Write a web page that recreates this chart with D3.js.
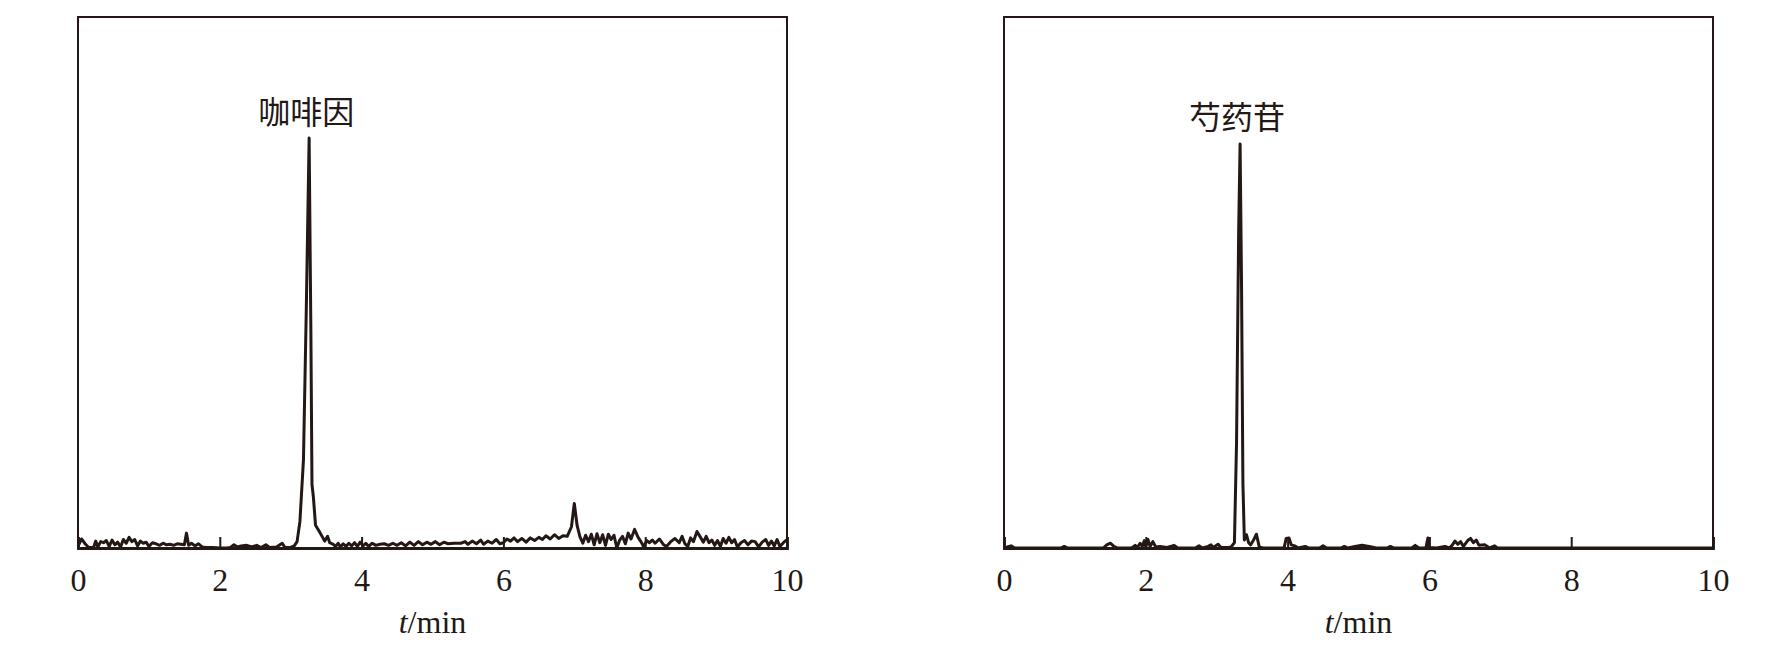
<!DOCTYPE html>
<html><head><meta charset="utf-8">
<script src="https://cdn.jsdelivr.net/npm/d3@7"></script>
<style>
html,body{margin:0;padding:0;background:#fff;}
svg{display:block;}
</style></head>
<body>
<script>
// ---- data ----
const xTicks = [0, 2, 4, 6, 8, 10];
const xLabel = "min";
const compoundA = "咖啡因";
const compoundB = "芍药苷";
const peakA = 3.26;
const peakB = 3.33;

const timeA = [0.00,0.05,0.10,0.15,0.22,0.25,0.28,0.32,0.36,0.40,0.44,0.48,0.52,0.56,0.60,0.64,0.68,0.72,0.76,0.80,0.84,0.88,0.92,0.96,1.00,1.05,1.10,1.15,1.20,1.25,1.30,1.35,1.40,1.45,1.50,1.53,1.56,1.60,1.65,1.70,1.75,1.80,1.90,2.00,2.10,2.15,2.20,2.25,2.30,2.38,2.45,2.52,2.58,2.65,2.70,2.80,2.88,2.92,3.00,3.05,3.09,3.13,3.18,3.22,3.26,3.285,3.30,3.32,3.35,3.40,3.45,3.48,3.52,3.55,3.60,3.63,3.67,3.70,3.74,3.78,3.82,3.86,3.90,3.94,3.98,4.02,4.06,4.10,4.15,4.20,4.26,4.32,4.38,4.44,4.50,4.56,4.62,4.68,4.74,4.80,4.86,4.92,4.98,5.04,5.10,5.16,5.22,5.30,5.40,5.46,5.50,5.56,5.62,5.68,5.72,5.78,5.84,5.90,5.95,6.00,6.05,6.10,6.15,6.20,6.26,6.32,6.38,6.44,6.50,6.55,6.60,6.66,6.72,6.78,6.84,6.90,6.96,7.00,7.04,7.08,7.12,7.16,7.20,7.24,7.28,7.32,7.36,7.40,7.44,7.48,7.52,7.56,7.60,7.64,7.68,7.72,7.76,7.80,7.85,7.90,7.94,7.98,8.02,8.06,8.10,8.14,8.20,8.26,8.30,8.36,8.42,8.48,8.52,8.56,8.60,8.64,8.68,8.73,8.78,8.82,8.86,8.90,8.94,8.98,9.02,9.06,9.10,9.14,9.18,9.22,9.26,9.30,9.35,9.40,9.45,9.50,9.55,9.60,9.65,9.70,9.74,9.78,9.82,9.86,9.90,9.95,10.0];
const intensityA = [0.3,1.7,0.8,0.1,0.1,1.3,0.2,1.2,1.0,1.4,0.3,1.5,0.6,1.1,0.2,1.6,0.9,2.0,1.2,1.6,0.4,1.3,0.9,1.1,0.3,1.0,0.8,0.5,0.9,0.6,0.7,0.5,0.8,0.7,0.6,2.8,0.5,0.9,0.4,0.8,0.2,0.1,0.1,0.0,0.0,0.1,0.6,0.2,0.4,0.5,0.2,0.5,0.1,0.6,0.1,0.2,0.9,0.1,0.1,0.4,1.2,5.0,16.6,45,77.2,40,12,9.6,4.3,3.2,2.0,1.3,2.2,1.0,0.7,0.3,0.9,0.2,0.8,0.3,0.9,0.4,1.0,0.3,1.1,0.4,0.9,0.3,0.9,0.5,0.7,0.8,0.5,0.9,0.5,1.0,0.4,1.1,0.5,1.2,0.6,1.1,0.7,1.2,0.6,1.1,0.8,0.9,0.9,1.2,0.7,1.3,0.8,1.5,0.7,1.3,0.9,1.6,0.8,1.0,1.7,1.3,1.9,1.2,1.8,1.1,1.9,1.4,2.0,1.6,2.3,1.7,2.5,1.8,2.3,2.2,4.0,8.4,4.2,2.1,0.9,2.4,1.2,2.6,0.6,2.7,1.0,2.5,0.5,2.6,1.6,2.4,0.0,1.5,2.2,0.8,2.8,1.7,3.5,2.0,1.2,0.2,1.4,1.0,1.5,0.9,1.7,0.6,0.3,1.2,1.8,1.0,2.2,0.8,0.3,1.9,1.2,3.1,2.0,1.1,2.2,1.0,1.5,0.5,1.4,0.3,1.8,0.9,2.0,1.0,1.6,0.2,1.0,1.4,0.6,1.3,1.2,0.2,1.1,1.6,0.5,1.3,0.4,1.6,0.3,1.0,1.6];

const timeB = [0.00,0.10,0.15,0.80,0.85,0.90,1.40,1.45,1.50,1.55,1.60,1.80,1.85,1.88,1.92,1.95,1.98,2.00,2.03,2.06,2.10,2.14,2.20,2.30,2.40,2.45,2.70,2.75,2.80,2.88,2.92,2.95,3.02,3.06,3.18,3.21,3.25,3.28,3.31,3.33,3.35,3.37,3.39,3.42,3.45,3.48,3.52,3.56,3.60,3.65,3.95,3.98,4.02,4.05,4.10,4.15,4.25,4.30,4.45,4.50,4.55,4.75,4.80,4.85,4.95,5.05,5.15,5.25,5.40,5.45,5.50,5.75,5.80,5.85,5.95,5.98,6.00,6.10,6.22,6.28,6.32,6.36,6.40,6.44,6.48,6.54,6.58,6.62,6.66,6.70,6.78,6.85,6.92,6.96,10.0];
const intensityB = [0.0,0.4,0.0,0.0,0.3,0.0,0.0,0.6,0.9,0.3,0.0,0.0,0.5,0.1,0.9,0.3,1.4,0.2,1.6,0.3,1.2,0.2,0.3,0.1,0.5,0.0,0.0,0.4,0.0,0.3,0.6,0.1,0.7,0.1,0.1,0.3,1.0,20,60,76.1,50,12,1.5,2.5,1.0,0.6,1.5,2.6,0.2,0.0,0.0,1.8,1.9,0.6,0.4,0.0,0.3,0.0,0.0,0.4,0.0,0.0,0.3,0.0,0.3,0.5,0.3,0.0,0.0,0.3,0.0,0.0,0.5,0.0,0.0,1.9,0.1,0.0,0.3,0.0,0.5,1.3,0.7,1.2,0.3,1.4,1.8,1.0,1.5,0.5,0.6,0.0,0.4,0.0,0.0];

// ---- layout ----
const W = 1779, H = 655;
const ink = "#231815";
const svg = d3.select("body").append("svg").attr("width", W).attr("height", H);

function panel(x0, x1, times, vals, label, peakT, labelY) {
  const top = 17, bottom = 548;
  const x = d3.scaleLinear().domain([0, 10]).range([x0, x1]);
  const y = d3.scaleLinear().domain([0, 100]).range([bottom, top]);
  const g = svg.append("g");
  const pts = times.map((t, i) => [t, vals[i]]);
  g.append("path")
    .datum(pts)
    .attr("fill", "none")
    .attr("stroke", ink)
    .attr("stroke-width", 3)
    .attr("stroke-linejoin", "round")
    .attr("d", d3.line().x(d => x(d[0])).y(d => y(d[1])));
  // frame
  g.append("rect")
    .attr("x", x0).attr("y", top)
    .attr("width", x1 - x0).attr("height", bottom - top)
    .attr("fill", "none").attr("stroke", ink).attr("stroke-width", 2);
  // inward ticks
  const ax = g.append("g").attr("transform", `translate(0,${bottom})`)
    .call(d3.axisBottom(x).tickValues(xTicks).tickSize(-11).tickPadding(20).tickFormat(d3.format("d")));
  ax.select(".domain").attr("stroke", ink).attr("stroke-width", 2.8);
  ax.selectAll(".tick line").attr("stroke", ink).attr("stroke-width", 2);
  ax.selectAll(".tick text")
    .attr("fill", ink)
    .attr("font-family", "'Liberation Serif','Times New Roman',serif")
    .attr("font-size", 32)
    .attr("dy", null)
    .attr("y", 43);
  // axis title
  const tt = g.append("text")
    .attr("x", (x0 + x1) / 2).attr("y", 633)
    .attr("text-anchor", "middle")
    .attr("fill", ink)
    .attr("font-family", "'Liberation Serif','Times New Roman',serif")
    .attr("font-size", 32);
  tt.append("tspan").attr("font-style", "italic").text("t");
  tt.append("tspan").text("/" + xLabel);
  // compound label
  g.append("text")
    .attr("x", x(peakT) - 3).attr("y", labelY)
    .attr("text-anchor", "middle")
    .attr("dominant-baseline", "central")
    .attr("fill", ink)
    .attr("font-family", "'Noto Sans CJK SC',sans-serif")
    .attr("font-size", 32)
    .text(label);
}

panel(78, 787, timeA, intensityA, compoundA, peakA, 110);
panel(1004, 1713, timeB, intensityB, compoundB, peakB, 115);
</script>
</body></html>
